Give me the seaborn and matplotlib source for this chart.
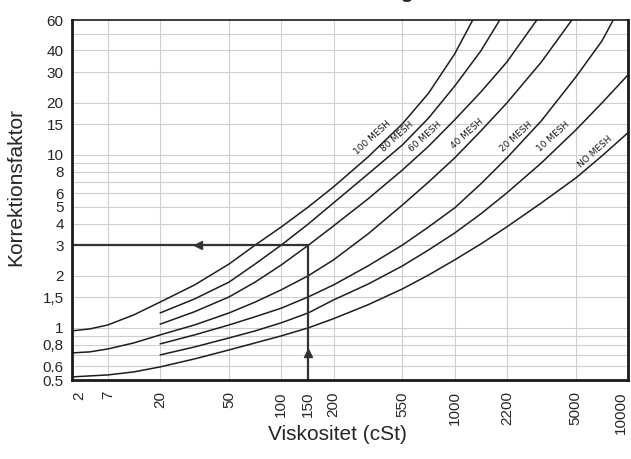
import numpy as np
import pandas as pd
import matplotlib
matplotlib.use("Agg")
import matplotlib.pyplot as plt
import seaborn as sns
from matplotlib.ticker import FixedLocator, FixedFormatter, NullLocator

# x-axis of the nomogram: printed labels and where they sit on a plain log grid
x_ticks = [2, 7, 20, 50, 100, 150, 200, 550, 1000, 2200, 5000, 10000]
x_tick_pos = [6.2, 10, 20, 50, 100, 143, 200, 500, 1000, 2000, 5000, 10000]
x_grid = [7, 20, 50, 100, 200, 550, 1000, 2200, 5000]

y_ticks = [0.5, 0.6, 0.8, 1, 1.5, 2, 3, 4, 5, 6, 8, 10, 15, 20, 30, 40, 60]
y_tick_labels = ["0.5", "0.6", "0,8", "1", "1,5", "2", "3", "4", "5", "6",
                 "8", "10", "15", "20", "30", "40", "60"]
y_grid = [0.6, 0.7, 0.8, 0.9, 1, 1.5, 2, 3, 4, 5, 6, 7, 8, 9, 10, 15, 20, 30, 40, 50]

# curves (viscosity cSt, correction factor)
mesh_100_x = [2, 3.74, 7, 11.8, 20, 31.6, 50, 70.7, 100, 150, 200, 332, 550, 742, 1000, 1314]
mesh_100_y = [0.961, 0.987, 1.04, 1.19, 1.41, 1.77, 2.34, 3.01, 3.83, 4.99, 6.52, 9.71,
              15.1, 22.7, 38.2, 60]
mesh_80_x = [20, 31.6, 50, 70.7, 100, 150, 200, 332, 550, 742, 1000, 1483, 1977]
mesh_80_y = [1.22, 1.47, 1.84, 2.34, 3.01, 3.98, 5.27, 7.74, 11.4, 16.3, 24.9, 39.7, 60]
mesh_60_x = [20, 31.6, 50, 70.7, 100, 150, 200, 332, 550, 742, 1000, 1483, 2200, 3144]
mesh_60_y = [1.05, 1.24, 1.51, 1.84, 2.31, 3.0, 3.88, 5.56, 8.17, 11.2, 15.9, 23.0, 34.3, 60]
mesh_40_x = [2, 3.74, 7, 11.8, 20, 31.6, 50, 70.7, 100, 150, 200, 332, 550, 742, 1000,
             1483, 2200, 3317, 4768]
mesh_40_y = [0.717, 0.727, 0.756, 0.819, 0.911, 1.04, 1.22, 1.41, 1.66, 2.00, 2.47, 3.49,
             5.13, 6.96, 9.58, 13.7, 19.9, 34.3, 60]
mesh_20_x = [20, 31.6, 50, 70.7, 100, 150, 200, 332, 550, 742, 1000, 1483, 2200, 3317,
             5000, 7071, 8222]
mesh_20_y = [0.808, 0.911, 1.04, 1.16, 1.30, 1.51, 1.77, 2.28, 3.01, 3.83, 4.93, 6.78,
             9.58, 15.7, 28.1, 45.4, 60]
mesh_10_x = [20, 31.6, 50, 70.7, 100, 150, 200, 332, 550, 742, 1000, 1483, 2200, 3317,
             5000, 7071, 10000]
mesh_10_y = [0.698, 0.776, 0.875, 0.961, 1.07, 1.22, 1.45, 1.79, 2.28, 2.82, 3.53, 4.55,
             6.02, 8.96, 13.9, 19.9, 28.9]
no_mesh_x = [2, 3.74, 7, 11.8, 20, 31.6, 50, 70.7, 100, 150, 200, 332, 550, 742, 1000,
             1483, 2200, 3317, 5000, 7071, 10000]
no_mesh_y = [0.521, 0.528, 0.535, 0.557, 0.595, 0.662, 0.746, 0.819, 0.899, 1.00, 1.13,
             1.36, 1.68, 2.02, 2.47, 3.05, 3.83, 5.27, 7.34, 9.84, 13.4]

curve_names = ["100 MESH", "80 MESH", "60 MESH", "40 MESH", "20 MESH", "10 MESH", "NO MESH"]
curve_x = [mesh_100_x, mesh_80_x, mesh_60_x, mesh_40_x, mesh_20_x, mesh_10_x, no_mesh_x]
curve_y = [mesh_100_y, mesh_80_y, mesh_60_y, mesh_40_y, mesh_20_y, mesh_10_y, no_mesh_y]

# where the curve names are written
label_x = [354, 511, 716, 1218, 2449, 3802, 6496]
label_y = [12.5, 12.7, 12.7, 13.2, 12.7, 12.7, 10.4]

# worked example: 150 cSt -> factor 3
example_visc = 150
example_factor = 3

df = pd.concat([
    pd.DataFrame({"visc": xs, "factor": ys, "mesh": name})
    for name, xs, ys in zip(curve_names, curve_x, curve_y)
], ignore_index=True)

sns.set_style("white")
plt.rcParams["font.family"] = ["Liberation Sans", "DejaVu Sans"]

lt = np.log10(x_ticks)
lp = np.log10(x_tick_pos)


def fwd(v):
    v = np.clip(np.asarray(v, dtype=float), 1e-3, None)
    return np.interp(np.log10(v), lt, lp)


def inv(u):
    return 10 ** np.interp(np.asarray(u, dtype=float), lp, lt)


fig = plt.figure(figsize=(6.31, 4.59), dpi=100)
ax = fig.add_axes([72 / 631, 1 - 380 / 459, 556 / 631, 360 / 459])

sns.lineplot(data=df, x="visc", y="factor", hue="mesh", units="mesh",
             estimator=None, palette={n: "#1e1e1e" for n in curve_names},
             linewidth=1.1, legend=False, ax=ax)

ax.set_xscale("function", functions=(fwd, inv))
ax.set_yscale("log")
ax.set_xlim(x_ticks[0], x_ticks[-1])
ax.set_ylim(0.5, 60)

# grid
for gx in x_grid:
    ax.axvline(gx, color="#cfcfcf", lw=0.8, zorder=0)
for gy in y_grid:
    ax.axhline(gy, color="#cfcfcf", lw=0.8, zorder=0)

# example path with arrows
ax.plot([example_visc, example_visc], [0.5, example_factor], color="#333333", lw=1.6)
ax.plot([example_visc, x_ticks[0]], [example_factor, example_factor], color="#333333", lw=1.6)
ax.plot([example_visc], [0.715], marker="^", color="#333333", ms=6)
ax.plot([33], [example_factor], marker="<", color="#333333", ms=6)

for name, lx, ly in zip(curve_names, label_x, label_y):
    ax.text(lx, ly, name, fontsize=6.5, rotation=42, ha="center", va="center",
            family="DejaVu Sans", color="#1a1a1a")

ax.xaxis.set_major_locator(FixedLocator(x_ticks))
ax.xaxis.set_major_formatter(FixedFormatter([str(t) for t in x_ticks]))
ax.xaxis.set_minor_locator(NullLocator())
ax.yaxis.set_major_locator(FixedLocator(y_ticks))
ax.yaxis.set_major_formatter(FixedFormatter(y_tick_labels))
ax.yaxis.set_minor_locator(NullLocator())
ax.tick_params(axis="x", length=0, pad=8, labelsize=11, labelrotation=90)
ax.tick_params(axis="y", length=0, pad=6, labelsize=11)

# end labels sit inside the frame
xlabels = ax.get_xticklabels()
xlabels[0].set_ha("left")
xlabels[-1].set_ha("right")

for side in ["left", "bottom", "right"]:
    ax.spines[side].set_linewidth(2.0)
    ax.spines[side].set_color("#1a1a1a")
ax.spines["top"].set_linewidth(1.2)
ax.spines["top"].set_color("#1a1a1a")

ax.set_xlabel("Viskositet (cSt)", fontsize=15)
ax.set_ylabel("Korrektionsfaktor", fontsize=15)
ax.xaxis.set_label_coords(0.477, -0.125)
ax.yaxis.set_label_coords(-0.084, 0.536)

# title sits above the visible canvas, only the tail of its "g" shows
fig.text(413 / 631, 1 + 1.5 / 459, "Korrektionsfaktor för silning", ha="right",
         va="baseline", fontsize=15, fontweight="bold")

fig.savefig("out.png", dpi=100)
